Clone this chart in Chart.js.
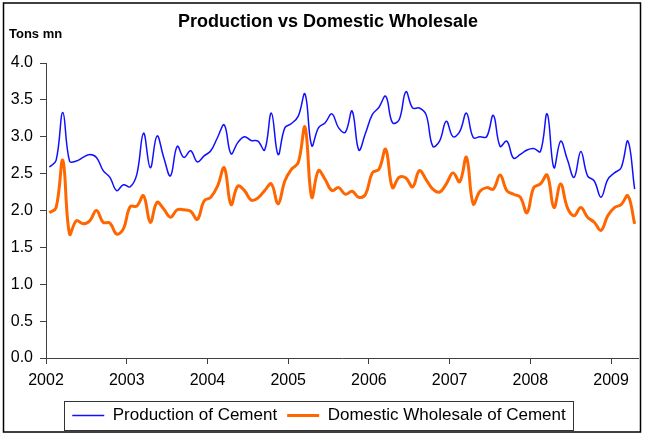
<!DOCTYPE html>
<html lang="en">
  <head>
    <meta charset="UTF-8" />
    <title>Production vs Domestic Wholesale</title>
    <script src="https://cdn.jsdelivr.net/npm/chart.js"></script>
    <style>
      body {
        margin: 0;
        background: #fff;
      }
      #wrap {
        width: 646px;
        height: 434px;
      }
    </style>
  </head>
  <body>
    <div id="wrap"><canvas id="cementChart" width="646" height="434"></canvas></div>

    <script>
      // monthly, Jan 2002 .. Apr 2009 (Tons mn)
      const startYear = 2002;
      const yearTicks = [2002, 2003, 2004, 2005, 2006, 2007, 2008, 2009];
      const production = [
        2.59, 2.68, 3.33, 2.67, 2.67, 2.72, 2.76, 2.72, 2.54, 2.45, 2.27, 2.35,
        2.32, 2.49, 3.05, 2.58, 3.01, 2.72, 2.47, 2.87, 2.72, 2.81, 2.66, 2.74,
        2.81, 2.99, 3.16, 2.77, 2.92, 3.0, 2.95, 2.94, 2.82, 3.32, 2.76, 3.12,
        3.18, 3.28, 3.58, 2.88, 3.12, 3.19, 3.31, 3.12, 3.06, 3.35, 2.82, 3.05,
        3.3, 3.4, 3.55, 3.19, 3.23, 3.61, 3.39, 3.39, 3.3, 2.87, 2.94, 3.21,
        3.0, 3.07, 3.32, 2.99, 3.0, 3.0, 3.29, 2.87, 2.94, 2.71, 2.76, 2.82,
        2.84, 2.8, 3.31, 2.58, 2.94, 2.69, 2.45, 2.8, 2.47, 2.4, 2.18, 2.42,
        2.51, 2.58, 2.94, 2.29,
      ];
      const wholesale = [
        1.97, 2.04, 2.68, 1.68, 1.86, 1.82, 1.86, 2.0, 1.84, 1.83, 1.68, 1.75,
        2.05, 2.06, 2.2, 1.84, 2.11, 2.02, 1.91, 2.01, 2.01, 1.99, 1.88, 2.13,
        2.18, 2.33, 2.58, 2.08, 2.33, 2.27, 2.14, 2.17, 2.27, 2.36, 2.09, 2.4,
        2.56, 2.65, 3.13, 2.18, 2.54, 2.42, 2.27, 2.31, 2.22, 2.26, 2.18, 2.22,
        2.51, 2.56, 2.83, 2.31, 2.45, 2.44, 2.32, 2.54, 2.42, 2.29, 2.25, 2.36,
        2.51, 2.39, 2.72, 2.09, 2.26, 2.31, 2.29, 2.48, 2.27, 2.22, 2.18, 1.97,
        2.31, 2.36, 2.48, 2.04, 2.36, 2.04, 1.93, 2.04, 1.91, 1.84, 1.73, 1.93,
        2.04, 2.08, 2.2, 1.82,
      ];

      const font = "'Liberation Sans', Arial, sans-serif";
      const axisColor = "#404040";

      // each month sits in the middle of its slot on the year axis
      const toPoints = (arr) =>
        arr.map((v, i) => ({ x: startYear + (i + 0.5) / 12, y: v }));

      const decorations = {
        id: "decorations",
        afterDraw(chart) {
          const c = chart.ctx;
          c.save();
          c.fillStyle = "#000";
          c.textBaseline = "middle";
          c.font = "bold 18px " + font;
          c.textAlign = "center";
          c.fillText("Production vs Domestic Wholesale", 328, 22);
          c.textAlign = "left";
          c.font = "bold 13px " + font;
          c.fillText("Tons mn", 9, 34);

          // box round the legend
          const hb = chart.legend.legendHitBoxes;
          if (hb && hb.length) {
            const left = Math.min(...hb.map((b) => b.left)) - 8;
            const right = Math.max(...hb.map((b) => b.left + b.width)) + 7;
            const mid = hb[0].top + hb[0].height / 2;
            c.strokeStyle = "#333";
            c.lineWidth = 1;
            c.strokeRect(Math.round(left) + 0.5, Math.round(mid - 14.5) + 0.5, Math.round(right - left), 29);
          }

          // outer frame
          c.strokeStyle = "#000";
          c.lineWidth = 1.5;
          c.strokeRect(3.5, 3, 637, 429);
          c.restore();
        },
      };

      const ctx = document.getElementById("cementChart").getContext("2d");
      const cementChart = new Chart(ctx, {
        type: "line",
        data: {
          datasets: [
            {
              label: "Production of Cement",
              data: toPoints(production),
              borderColor: "#1010ff",
              backgroundColor: "#1010ff",
              borderWidth: 1.5,
              pointRadius: 0,
              tension: 0.4,
            },
            {
              label: "Domestic Wholesale of Cement",
              data: toPoints(wholesale),
              borderColor: "#ff6600",
              backgroundColor: "#ff6600",
              borderWidth: 3,
              pointRadius: 0,
              tension: 0.4,
            },
          ],
        },
        options: {
          responsive: false,
          animation: false,
          layout: { padding: { top: 63, right: 8, bottom: 0, left: 0 } },
          scales: {
            x: {
              type: "linear",
              min: startYear,
              max: startYear + production.length / 12,
              afterBuildTicks: (scale) => {
                scale.ticks = yearTicks.map((v) => ({ value: v }));
              },
              afterFit: (scale) => {
                scale.height = 39;
              },
              border: { display: true, color: axisColor, width: 1 },
              grid: { drawOnChartArea: false, drawTicks: true, tickLength: 6, color: axisColor },
              ticks: {
                padding: 7,
                maxRotation: 0,
                autoSkip: false,
                color: "#000",
                font: { family: font, size: 16 },
                callback: (v) => String(v),
              },
            },
            y: {
              min: 0,
              max: 4,
              afterFit: (scale) => {
                scale.width = 46;
              },
              border: { display: true, color: axisColor, width: 1 },
              grid: { drawOnChartArea: false, drawTicks: true, tickLength: 6, color: axisColor },
              ticks: {
                stepSize: 0.5,
                padding: 7,
                color: "#000",
                font: { family: font, size: 16 },
                callback: (v) => v.toFixed(1),
              },
            },
          },
          plugins: {
            legend: {
              position: "bottom",
              labels: {
                usePointStyle: true,
                pointStyle: "line",
                pointStyleWidth: 32,
                padding: 10,
                color: "#000",
                font: { family: font, size: 17 },
              },
            },
            tooltip: { enabled: false },
          },
        },
        plugins: [decorations],
      });
    </script>
  </body>
</html>
